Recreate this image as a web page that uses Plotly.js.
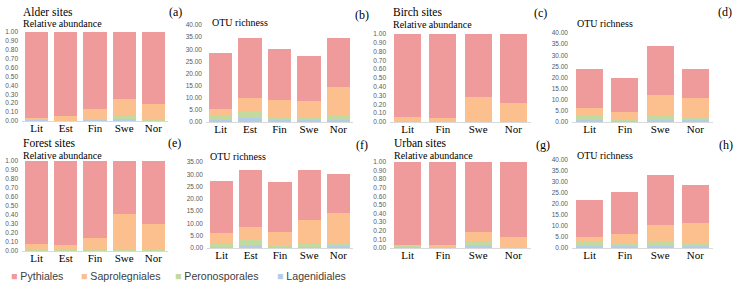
<!DOCTYPE html>
<html>
<head>
<meta charset="utf-8">
<script src="https://cdn.plot.ly/plotly-3.0.1.min.js"></script>
<style>html,body{margin:0;padding:0;background:#fff;}#chart{width:735px;height:287px;}</style>
</head>
<body>
<div id="chart"></div>
<script>
// ---------- DATA ----------
const seriesNames = ['Lagenidiales', 'Peronosporales', 'Saprolegniales', 'Pythiales'];
const sitesFive = ['Lit', 'Est', 'Fin', 'Swe', 'Nor'];
const sitesFour = ['Lit', 'Fin', 'Swe', 'Nor'];

// (a) Alder sites – relative abundance
const alderRA_Lag = [0.010, 0.000, 0.010, 0.022, 0.005];
const alderRA_Per = [0.015, 0.003, 0.015, 0.041, 0.010];
const alderRA_Sap = [0.005, 0.050, 0.113, 0.187, 0.180];
const alderRA_Pyt = [0.970, 0.947, 0.862, 0.750, 0.805];
// (b) Alder sites – OTU richness
const alderOTU_Lag = [0.7, 1.5, 0.7, 0.7, 1.0];
const alderOTU_Per = [1.9, 2.6, 1.1, 1.5, 1.8];
const alderOTU_Sap = [2.8, 5.8, 7.4, 6.4, 11.5];
const alderOTU_Pyt = [23.0, 24.6, 21.0, 18.7, 20.2];
// (c) Birch sites – relative abundance
const birchRA_Lag = [0.002, 0.002, 0.002, 0.002];
const birchRA_Per = [0.004, 0.003, 0.005, 0.003];
const birchRA_Sap = [0.055, 0.040, 0.275, 0.215];
const birchRA_Pyt = [0.939, 0.955, 0.718, 0.780];
// (d) Birch sites – OTU richness
const birchOTU_Lag = [0.7, 0.5, 0.9, 0.8];
const birchOTU_Per = [2.3, 0.8, 2.4, 1.3];
const birchOTU_Sap = [3.5, 3.0, 8.9, 8.9];
const birchOTU_Pyt = [17.1, 15.5, 22.0, 12.6];
// (e) Forest sites – relative abundance
const forestRA_Lag = [0.005, 0.002, 0.003, 0.003, 0.005];
const forestRA_Per = [0.017, 0.005, 0.010, 0.010, 0.012];
const forestRA_Sap = [0.052, 0.056, 0.130, 0.397, 0.280];
const forestRA_Pyt = [0.926, 0.937, 0.857, 0.590, 0.703];
// (f) Forest sites – OTU richness
const forestOTU_Lag = [0.6, 1.4, 0.3, 0.6, 0.8];
const forestOTU_Per = [1.6, 2.0, 1.0, 1.6, 1.4];
const forestOTU_Sap = [3.8, 5.3, 5.4, 9.0, 12.1];
const forestOTU_Pyt = [21.4, 22.9, 20.3, 20.5, 15.9];
// (g) Urban sites – relative abundance
const urbanRA_Lag = [0.010, 0.010, 0.035, 0.005];
const urbanRA_Per = [0.015, 0.005, 0.030, 0.003];
const urbanRA_Sap = [0.005, 0.025, 0.125, 0.120];
const urbanRA_Pyt = [0.970, 0.960, 0.810, 0.872];
// (h) Urban sites – OTU richness
const urbanOTU_Lag = [0.8, 0.8, 0.8, 0.9];
const urbanOTU_Per = [2.5, 1.0, 2.5, 1.4];
const urbanOTU_Sap = [1.8, 4.7, 7.1, 9.2];
const urbanOTU_Pyt = [16.8, 18.9, 22.8, 17.2];

// ---------- STYLE / LAYOUT ----------
const W = 735, H = 287;
const SERIF = '"Liberation Serif", "Times New Roman", serif';
const SANS = '"Liberation Sans", Arial, sans-serif';
const colors = {Lagenidiales: '#B4CDE6', Peronosporales: '#C3DA9E', Saprolegniales: '#FCC08F', Pythiales: '#EF9A9B'};
const fx = p => p / W;
const fy = p => 1 - p / H;

const panels = [
  {cats: sitesFive, data: [alderRA_Lag, alderRA_Per, alderRA_Sap, alderRA_Pyt], x: [22, 168], y: [32, 121], range: [0, 1], dtick: 0.1, width: 0.8},
  {cats: sitesFive, data: [alderOTU_Lag, alderOTU_Per, alderOTU_Sap, alderOTU_Pyt], x: [206, 353], y: [25, 122], range: [0, 40], dtick: 5, width: 0.8},
  {cats: sitesFour, data: [birchRA_Lag, birchRA_Per, birchRA_Sap, birchRA_Pyt], x: [390, 531], y: [34, 122], range: [0, 1], dtick: 0.1, width: 0.77},
  {cats: sitesFour, data: [birchOTU_Lag, birchOTU_Per, birchOTU_Sap, birchOTU_Pyt], x: [572, 713], y: [33, 122], range: [0, 40], dtick: 5, width: 0.77},
  {cats: sitesFive, data: [forestRA_Lag, forestRA_Per, forestRA_Sap, forestRA_Pyt], x: [22, 168], y: [161, 251], range: [0, 1], dtick: 0.1, width: 0.8},
  {cats: sitesFive, data: [forestOTU_Lag, forestOTU_Per, forestOTU_Sap, forestOTU_Pyt], x: [207, 353], y: [162, 248], range: [0, 35], dtick: 5, width: 0.8},
  {cats: sitesFour, data: [urbanRA_Lag, urbanRA_Per, urbanRA_Sap, urbanRA_Pyt], x: [390, 531], y: [162, 248], range: [0, 1], dtick: 0.1, width: 0.77},
  {cats: sitesFour, data: [urbanOTU_Lag, urbanOTU_Per, urbanOTU_Sap, urbanOTU_Pyt], x: [572, 713], y: [160, 248], range: [0, 40], dtick: 5, width: 0.77}
];

const traces = [];
const layout = {
  width: W, height: H,
  margin: {l: 0, r: 0, t: 0, b: 0},
  paper_bgcolor: '#ffffff', plot_bgcolor: '#ffffff',
  barmode: 'stack',
  showlegend: false,
  annotations: [],
  font: {family: SERIF, color: '#000'}
};

panels.forEach((p, i) => {
  const n = i + 1;
  const xa = n === 1 ? 'x' : 'x' + n;
  const ya = n === 1 ? 'y' : 'y' + n;
  p.data.forEach((vals, k) => {
    traces.push({
      type: 'bar', x: p.cats, y: vals, name: seriesNames[k],
      xaxis: xa, yaxis: ya, width: p.width,
      marker: {color: colors[seriesNames[k]], line: {width: 0}},
      hoverinfo: 'x+y+name', showlegend: false
    });
  });
  layout[n === 1 ? 'xaxis' : 'xaxis' + n] = {
    domain: [fx(p.x[0]), fx(p.x[1])], anchor: ya,
    showline: true, linecolor: '#D9D9D9', linewidth: 1,
    showgrid: false, zeroline: false, ticks: '',
    tickfont: {family: SERIF, size: 11, color: '#000'},
    ticklabelstandoff: -3,
    fixedrange: true
  };
  layout[n === 1 ? 'yaxis' : 'yaxis' + n] = {
    domain: [fy(p.y[1]), fy(p.y[0])], anchor: xa,
    range: p.range, dtick: p.dtick, tick0: 0, tickformat: '.2f',
    showline: false, showgrid: false, zeroline: false, ticks: '',
    tickfont: {family: SANS, size: 6.5, color: '#595959'},
    ticklabelstandoff: 3,
    fixedrange: true
  };
});

function note(text, px, py, size) {
  layout.annotations.push({
    text: text, xref: 'paper', yref: 'paper', x: fx(px), y: fy(py),
    xanchor: 'left', yanchor: 'middle', showarrow: false,
    font: {family: SERIF, size: size, color: '#000'}
  });
}
// panel titles
note('Alder sites', 21, 11.5, 11.5);
note('Relative abundance', 21, 24, 10);
note('(a)', 167, 12, 12);
note('OTU richness', 210, 22, 10);
note('(b)', 353, 15, 12);
note('Birch sites', 391, 12, 11.5);
note('Relative abundance', 391, 24.5, 10);
note('(c)', 532, 13, 12);
note('OTU richness', 575, 24, 10);
note('(d)', 716, 12, 12);
note('Forest sites', 21, 143, 11.5);
note('Relative abundance', 21, 155, 10);
note('(e)', 166, 143, 12);
note('OTU richness', 208, 156, 10);
note('(f)', 354, 145, 12);
note('Urban sites', 392, 143, 11.5);
note('Relative abundance', 392, 155, 10);
note('(g)', 534, 145, 12);
note('OTU richness', 575, 155, 10);
note('(h)', 717, 145, 12);

// legend (bottom)
const legendOrder = ['Pythiales', 'Saprolegniales', 'Peronosporales', 'Lagenidiales'];
const legendX = [9, 79, 173, 275];
legendOrder.forEach((name, i) => {
  layout.annotations.push({
    text: '<span style="color:' + colors[name] + '">■</span> ' + name,
    xref: 'paper', yref: 'paper', x: fx(legendX[i]), y: fy(276),
    xanchor: 'left', yanchor: 'middle', showarrow: false,
    font: {family: SANS, size: 10.6, color: '#404040'}
  });
});

Plotly.newPlot('chart', traces, layout, {staticPlot: true, displayModeBar: false});
</script>
</body>
</html>
